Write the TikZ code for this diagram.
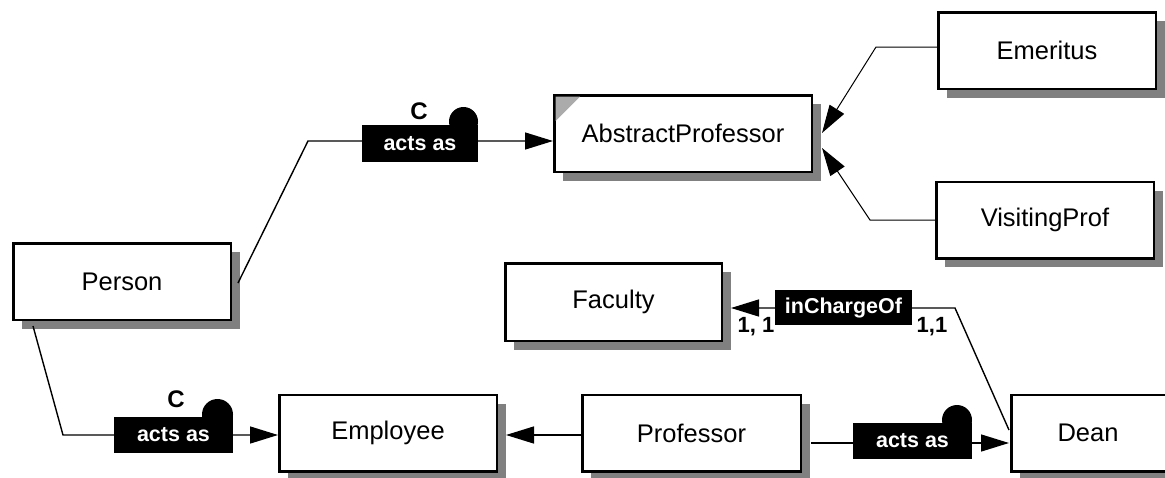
\documentclass[tikz,border=0pt]{standalone}
\usepackage{fontspec}
\setmainfont{Liberation Sans}
\usetikzlibrary{arrows.meta,shadows}
\definecolor{shadowgray}{HTML}{808080}
\definecolor{cornergray}{HTML}{ABABAB}
\begin{document}
\begin{tikzpicture}[x=1pt,y=-1pt,
  entity/.style={draw,line width=2.5pt,fill=white,minimum height=76.5pt,
    inner sep=0pt,font=\fontsize{25.5}{30}\selectfont,
    drop shadow={shadow xshift=9pt,shadow yshift=-9pt,fill=shadowgray,opacity=1}},
  relbox/.style={fill=black,text=white,inner sep=0pt,
    font=\fontsize{21.5}{25}\selectfont\bfseries},
  tag/.style={inner sep=0pt,font=\fontsize{24}{28}\selectfont\bfseries},
  card/.style={inner sep=0pt,font=\fontsize{22}{26}\selectfont\bfseries},
  conn/.style={line width=1.4pt},
  thin/.style={line width=1pt},
  tip/.style={-{Triangle[length=28pt,width=17pt]}}]
\useasboundingbox (0,0) rectangle (1165,477);

% entity boxes
\node[entity,minimum width=217.5pt] (person)   at (122,281.5)  {Person};
\node[entity,minimum width=257.5pt] (abstract) at (683,133.5)  {AbstractProfessor};
\node[entity,minimum width=217.5pt] (emeritus) at (1047,50.5)  {Emeritus};
\node[entity,minimum width=217.5pt] (visiting) at (1045,220)   {VisitingProf};
\node[entity,minimum width=216.5pt,minimum height=77.5pt] (faculty) at (613.5,302) {Faculty};
\node[entity,minimum width=217.5pt] (employee) at (388,433)    {Employee};
\node[entity,minimum width=218.5pt] (professor) at (691.5,433) {Professor};
\node[entity,minimum width=159.5pt,text width=156pt,align=center] (dean) at (1091,433) {\hspace*{-6pt}Dean};

% abstract marker
\fill[cornergray] (555.5,96.5) -- (580,96.5) -- (555.5,121) -- cycle;

% connector end points
\coordinate (personR)  at (238,283);
\coordinate (bendA)    at (308,141);
\coordinate (abstractL) at (553,141);
\coordinate (personB)  at (33,326);
\coordinate (bendB)    at (63,435);
\coordinate (employeeL) at (278,435);
\coordinate (professorL) at (581,435);
\coordinate (employeeR) at (506,435);
\coordinate (professorR) at (811,443);
\coordinate (deanL)    at (1009,443);
\coordinate (deanUp)   at (1009,430);
\coordinate (bendD)    at (955,308);
\coordinate (facultyR) at (731,308);
\coordinate (emeritusL) at (937,47);
\coordinate (bendE)    at (876,47);
\coordinate (abstractR1) at (822,133);
\coordinate (visitingL) at (935,220);
\coordinate (bendV)    at (870,220);
\coordinate (abstractR2) at (822,148);

% connectors
\draw[conn,tip] (personR) -- (bendA) -- (abstractL);
\draw[conn,tip] (personB) -- (bendB) -- (employeeL);
\draw[conn,tip] (professorL) -- (employeeR);
\draw[conn,tip] (professorR) -- (deanL);
\draw[conn,tip] (deanUp) -- (bendD) -- (facultyR);
\draw[thin,tip] (emeritusL) -- (bendE) -- (abstractR1);
\draw[thin,tip] (visitingL) -- (bendV) -- (abstractR2);

% relationship labels
\fill (463.5,121.5) circle[radius=14.5];
\node[relbox,minimum width=116pt,minimum height=37pt] (actsA) at (420,143.5) {acts as};
\node[tag] (cA) at (419,111.5) {C};

\fill (217.5,414.5) circle[radius=15.5];
\node[relbox,minimum width=119pt,minimum height=36pt] (actsB) at (173.5,435) {acts as};
\node[tag] (cB) at (176,399.5) {C};

\fill (957,420) circle[radius=15];
\node[relbox,minimum width=119pt,minimum height=36pt] (actsC) at (912.5,441) {acts as};

\node[relbox,minimum width=137pt,minimum height=35pt] (incharge) at (843.5,307.5) {inChargeOf};
\node[card] (cardF) at (756,327) {1, 1};
\node[card] (cardD) at (932,327) {1,1};
\end{tikzpicture}
\end{document}
